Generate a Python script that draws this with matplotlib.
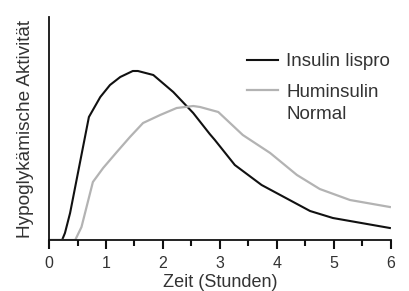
import matplotlib
matplotlib.use("Agg")
import matplotlib.pyplot as plt
from matplotlib.ticker import MultipleLocator

# Zeit in Stunden und Wirkung (willkürliche Einheiten)
lispro_t = [0.0, 0.23, 0.28, 0.37, 0.70, 0.90, 1.07, 1.25, 1.47, 1.56, 1.83, 2.18,
            2.53, 2.82, 2.91, 3.26, 3.73, 4.58, 4.98, 5.98]
lispro_y = [0, 0, 7, 27, 123, 143, 155, 163, 169, 169, 165, 148,
            127, 106, 100, 75, 55, 29, 22, 12]

normal_t = [0.0, 0.46, 0.57, 0.77, 0.95, 1.19, 1.42, 1.65, 1.95, 2.24, 2.53, 2.65,
            2.97, 3.40, 3.88, 4.35, 4.75, 5.28, 5.98]
normal_y = [0, 0, 13, 58, 72, 88, 103, 117, 125, 132, 134, 133,
            128, 105, 87, 65, 51, 40, 33]

labels = ["Insulin lispro", "Huminsulin"]
label_extra = "Normal"
x_label = "Zeit (Stunden)"
y_label = "Hypoglykämische Aktivität"

plt.rcParams["font.family"] = ["Liberation Sans", "DejaVu Sans"]
text_color = "#333333"

fig = plt.figure(figsize=(4.09, 2.91), dpi=100)
ax = fig.add_axes([49 / 409, 51 / 291, 342 / 409, 223 / 291])

ax.plot(lispro_t, lispro_y, color="#111111", lw=1.5, label=labels[0])
ax.plot(normal_t, normal_y, color="#b3b3b3", lw=1.6, label=labels[1])

ax.set_xlim(0, 6)
ax.set_ylim(0, 223)
ax.spines["top"].set_visible(False)
ax.spines["right"].set_visible(False)
for side in ("left", "bottom"):
    ax.spines[side].set_linewidth(1.3)
    ax.spines[side].set_color("#111111")

ax.xaxis.set_major_locator(MultipleLocator(1))
ax.xaxis.set_minor_locator(MultipleLocator(0.5))
ax.tick_params(axis="x", which="major", direction="out", length=6.5, width=1.5,
               color="#111111", labelsize=11.5, labelcolor=text_color, pad=5)
ax.tick_params(axis="x", which="minor", direction="out", length=4.5, width=1.5,
               color="#111111")
ax.set_yticks([])

ax.set_xlabel(x_label, fontsize=13, color=text_color, labelpad=2)
ax.set_ylabel(y_label, fontsize=13.7, color=text_color)
ax.yaxis.set_label_coords(-0.045, 0.5)

leg = ax.legend(loc="upper left", bbox_to_anchor=(0.579, 0.838), frameon=False,
                fontsize=13.5, handlelength=1.65, handletextpad=0.45,
                borderpad=0, borderaxespad=0, labelspacing=0.72, labelcolor=text_color)
ax.annotate(label_extra, xy=(0, 0), xycoords=leg.get_texts()[1], xytext=(0, -3.5),
            textcoords="offset points", ha="left", va="top", fontsize=13.5,
            color=text_color, zorder=10, annotation_clip=False)

fig.savefig("out.png", dpi=100)
